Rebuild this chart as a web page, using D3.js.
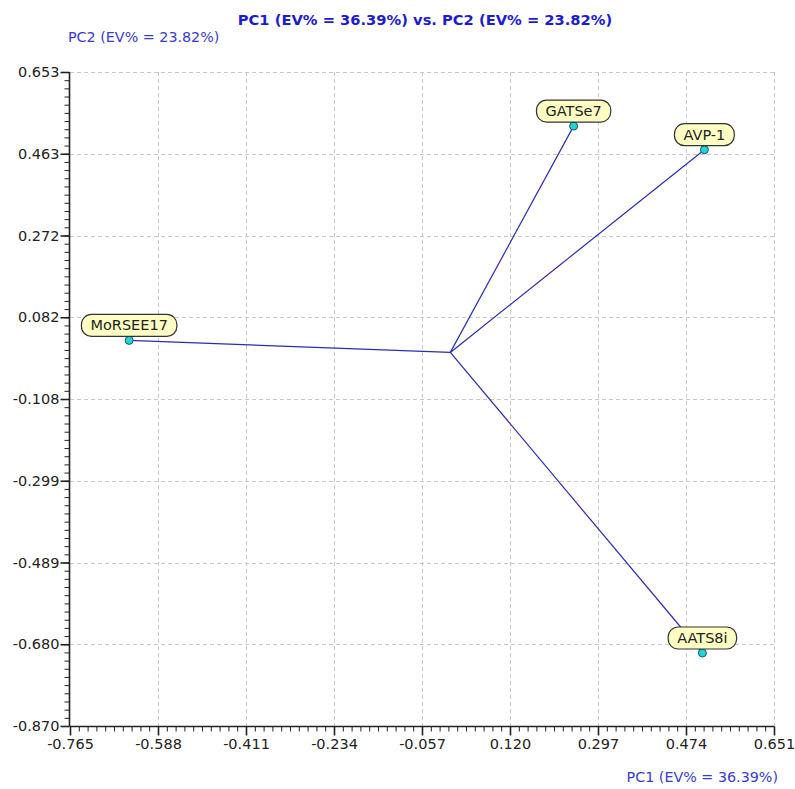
<!DOCTYPE html>
<html>
<head>
<meta charset="utf-8">
<script src="https://cdn.jsdelivr.net/npm/d3@7/dist/d3.min.js"></script>
<style>
  html, body { margin: 0; padding: 0; background: #fff; }
  svg { display: block; font-family: "DejaVu Sans", Verdana, sans-serif; }
</style>
</head>
<body>
<svg id="chart" width="795" height="789"></svg>
<script>
// Loading vectors of the four descriptors on the first two principal components
const descriptors = ["GATSe7", "AVP-1", "MoRSEE17", "AATS8i"];
const pc1Loadings = [0.248, 0.511, -0.646, 0.507];
const pc2Loadings = [0.527, 0.472, 0.028, -0.700];

// Axis ticks
const xTickLabels = ["-0.765", "-0.588", "-0.411", "-0.234", "-0.057", "0.120", "0.297", "0.474", "0.651"];
const yTickLabels = ["0.653", "0.463", "0.272", "0.082", "-0.108", "-0.299", "-0.489", "-0.680", "-0.870"];
const xDomain = [-0.765, 0.651];
const yDomain = [-0.870, 0.653];

const titleText = "PC1 (EV% = 36.39%) vs. PC2 (EV% = 23.82%)";
const xAxisTitle = "PC1 (EV% = 36.39%)";
const yAxisTitle = "PC2 (EV% = 23.82%)";

const svg = d3.select("#chart");
const plotLeft = 70, plotRight = 774, plotTop = 72, plotBottom = 726;

const x = d3.scaleLinear().domain(xDomain).range([plotLeft, plotRight]);
const y = d3.scaleLinear().domain(yDomain).range([plotBottom, plotTop]);

const nMajor = 8, nSub = 10;
const xMajor = d3.range(nMajor + 1).map(i => xDomain[0] + i * (xDomain[1] - xDomain[0]) / nMajor);
const yMajor = d3.range(nMajor + 1).map(i => yDomain[1] - i * (yDomain[1] - yDomain[0]) / nMajor);
const xMinor = d3.range(nMajor * nSub + 1).map(i => xDomain[0] + i * (xDomain[1] - xDomain[0]) / (nMajor * nSub));
const yMinor = d3.range(nMajor * nSub + 1).map(i => yDomain[0] + i * (yDomain[1] - yDomain[0]) / (nMajor * nSub));

// Dashed grid
const grid = svg.append("g").attr("stroke", "#c8c8c8").attr("stroke-width", 1).attr("stroke-dasharray", "4,3");
grid.selectAll("line.gx").data(xMajor.slice(1)).join("line")
  .attr("x1", d => Math.round(x(d)) + 0.5).attr("x2", d => Math.round(x(d)) + 0.5)
  .attr("y1", plotTop).attr("y2", plotBottom);
grid.selectAll("line.gy").data(yMajor.slice(0, -1)).join("line")
  .attr("y1", d => Math.round(y(d)) + 0.5).attr("y2", d => Math.round(y(d)) + 0.5)
  .attr("x1", plotLeft).attr("x2", plotRight);

// X axis
const xAxisMinor = d3.axisBottom(x).tickValues(xMinor).tickSize(5).tickFormat("");
const xAxisMajor = d3.axisBottom(x).tickValues(xMajor).tickSize(9).tickPadding(3)
  .tickFormat((d, i) => xTickLabels[i]);
svg.append("g").attr("transform", `translate(0,${plotBottom + 0.5})`).call(xAxisMinor)
  .call(g => g.select(".domain").remove())
  .selectAll("line").attr("stroke", "#222");
const gx = svg.append("g").attr("transform", `translate(0,${plotBottom + 0.5})`).call(xAxisMajor);
gx.select(".domain").attr("d", `M${plotLeft},0H${plotRight}`).attr("stroke", "#222").attr("stroke-width", 1.6);
gx.selectAll("line").attr("stroke", "#222").attr("stroke-width", 1.6);
gx.selectAll("text").attr("fill", "#222").style("font-size", "14.5px").style("font-family", "DejaVu Sans");

// Y axis
const yAxisMinor = d3.axisLeft(y).tickValues(yMinor).tickSize(5).tickFormat("");
const yAxisMajor = d3.axisLeft(y).tickValues(yMajor).tickSize(9).tickPadding(1)
  .tickFormat((d, i) => yTickLabels[i]);
svg.append("g").attr("transform", `translate(${plotLeft - 0.5},0)`).call(yAxisMinor)
  .call(g => g.select(".domain").remove())
  .selectAll("line").attr("stroke", "#222");
const gy = svg.append("g").attr("transform", `translate(${plotLeft - 0.5},0)`).call(yAxisMajor);
gy.select(".domain").attr("d", `M0,${plotTop}V${plotBottom}`).attr("stroke", "#222").attr("stroke-width", 1.6);
gy.selectAll("line").attr("stroke", "#222").attr("stroke-width", 1.6);
gy.selectAll("text").attr("fill", "#222").style("font-size", "14.5px").style("font-family", "DejaVu Sans");

// Titles
svg.append("text").attr("x", 425).attr("y", 25).attr("text-anchor", "middle")
  .attr("fill", "#1c1cd0").attr("font-weight", "bold").attr("font-size", 14.7)
  .text(titleText);
svg.append("text").attr("x", 68).attr("y", 42)
  .attr("fill", "#3a3ad0").attr("font-size", 14.3)
  .text(yAxisTitle);
svg.append("text").attr("x", 778).attr("y", 782).attr("text-anchor", "end")
  .attr("fill", "#3a3ad0").attr("font-size", 14.3)
  .text(xAxisTitle);

// Loading vectors from the origin
const data = descriptors.map((name, i) => ({ name, pc1: pc1Loadings[i], pc2: pc2Loadings[i] }));
svg.append("g").selectAll("line").data(data).join("line")
  .attr("x1", x(0)).attr("y1", y(0))
  .attr("x2", d => x(d.pc1)).attr("y2", d => y(d.pc2))
  .attr("stroke", "#2b2bb4").attr("stroke-width", 1.2);

// Endpoints
svg.append("g").selectAll("circle").data(data).join("circle")
  .attr("cx", d => x(d.pc1)).attr("cy", d => y(d.pc2)).attr("r", 4)
  .attr("fill", "#22d4d8").attr("stroke", "#1a5a60").attr("stroke-width", 1);

// Name tags sitting on each endpoint
const tags = svg.append("g").selectAll("g").data(data).join("g")
  .attr("transform", d => `translate(${x(d.pc1)},${y(d.pc2) - 4})`);
tags.append("text")
  .attr("x", 0).attr("y", -6).attr("text-anchor", "middle")
  .attr("font-size", 14.5).attr("fill", "#222")
  .text(d => d.name)
  .each(function (d) { d.w = this.getComputedTextLength(); });
tags.insert("rect", "text")
  .attr("x", d => -d.w / 2 - 9).attr("y", -22)
  .attr("width", d => d.w + 18).attr("height", 22)
  .attr("rx", 10).attr("ry", 10)
  .attr("fill", "#ffffc4").attr("stroke", "#333").attr("stroke-width", 1.2);
</script>
</body>
</html>
